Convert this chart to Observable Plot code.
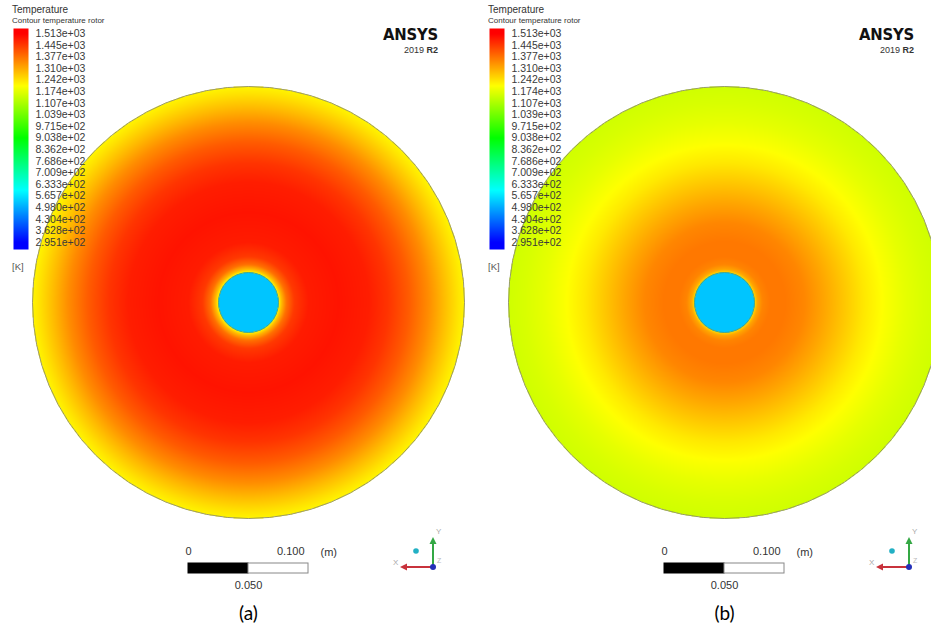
<!DOCTYPE html>
<html><head><meta charset="utf-8">
<script src="https://cdn.jsdelivr.net/npm/d3@7"></script>
<script src="https://cdn.jsdelivr.net/npm/@observablehq/plot@0.6"></script>
<style>
body{margin:0;background:#fff;font-family:"Liberation Sans",Arial,sans-serif;}
#root{position:relative;width:931px;height:628px;overflow:hidden;background:#fff;}
.abs{position:absolute;white-space:nowrap;line-height:1;}
.panel{position:absolute;top:0;height:628px;overflow:hidden;}
</style></head><body><div id="root"></div>
<script>
// ---------- data ----------
const legendTitle = "Temperature";
const legendSubtitle = "Contour temperature rotor";
const legendUnit = "[K]";
const legendValues = [1513, 1445, 1377, 1310, 1242, 1174, 1107, 1039, 971.5, 903.8, 836.2, 768.6, 700.9, 633.3, 565.7, 498.0, 430.4, 362.8, 295.1];
const tempMin = 295.1, tempMax = 1513;
const diskRadius = 0.18;   // m
const hubRadius = 0.025;   // m
const hubTemp = 530;       // K
// radial temperature profiles (radius in m, temperature in K)
const radiiA = [0.025, 0.0275, 0.0317, 0.0383, 0.05, 0.075, 0.1, 0.1167, 0.1333, 0.15, 0.1625, 0.1733, 0.18];
const tempsA = [1215, 1290, 1380, 1445, 1480, 1490, 1478, 1450, 1405, 1345, 1290, 1245, 1220];
const radiiB = [0.025, 0.0275, 0.0317, 0.0383, 0.05, 0.0667, 0.0833, 0.1, 0.1167, 0.1333, 0.15, 0.1667, 0.18];
const tempsB = [1250, 1315, 1355, 1370, 1370, 1352, 1315, 1275, 1235, 1205, 1180, 1162, 1152];
const scaleBarTicks = [0, 0.05, 0.1];  // m
const scaleBarUnit = "(m)";
const panelLabels = ["(a)", "(b)"];
const logoText = "ANSYS";
const logoVersion = "2019";
const logoRelease = "R2";

// ---------- layout ----------
const k = 1200;           // px per metre
const cx = 248, cy = 302, H = 628;
const panels = [
  {left: 0, width: 476, radii: radiiA, temps: tempsA, label: panelLabels[0]},
  {left: 476, width: 455, radii: radiiB, temps: tempsB, label: panelLabels[1]}
];
const colorOpts = {
  type: "linear", domain: [tempMin, tempMax], clamp: true,
  interpolate: t => d3.hsl(240 * (1 - t), 1, 0.5).formatRgb()
};
const fmt = d => d.toExponential(3).replace(/e([+-])(\d)$/, "e$10$2");
const root = document.getElementById("root");
const ym = p => (cy - p) / k;   // pixel row -> metres

function diskPlot(p) {
  const T = d3.scaleLinear().domain(p.radii).range(p.temps).clamp(true);
  const half = scaleBarTicks[scaleBarTicks.length - 1] / 2;
  const segs = [
    {x1: scaleBarTicks[0] - half, x2: scaleBarTicks[1] - half, fill: "#000"},
    {x1: scaleBarTicks[1] - half, x2: scaleBarTicks[2] - half, fill: "#fff"}
  ];
  return Plot.plot({
    width: p.width, height: H, margin: 0,
    x: {domain: [-cx / k, (p.width - cx) / k], axis: null},
    y: {domain: [-(H - cy) / k, cy / k], axis: null},
    r: {type: "linear", domain: [0, 1], range: [0, k]},
    color: colorOpts,
    style: {background: "transparent", fontFamily: "'Liberation Sans', Arial, sans-serif", fontSize: "11px", color: "#333"},
    marks: [
      Plot.raster({
        x1: -diskRadius, x2: diskRadius, y1: -diskRadius, y2: diskRadius, pixelSize: 1,
        fill: (x, y) => {
          const r = Math.hypot(x, y);
          if (r > diskRadius) return NaN;
          if (r < hubRadius) return hubTemp;
          return T(r);
        }
      }),
      Plot.dot([diskRadius], {x: 0, y: 0, r: d => d, stroke: "#7a7a60", strokeOpacity: 0.75, strokeWidth: 1, fill: "none"}),
      Plot.dot([hubRadius], {x: 0, y: 0, r: d => d, stroke: "#3f9a8a", strokeOpacity: 0.8, strokeWidth: 1, fill: "none"}),
      Plot.rect(segs, {x1: "x1", x2: "x2", y1: ym(563), y2: ym(573), fill: "fill", stroke: d => d.fill === "#000" ? "#000" : "#888", strokeWidth: 1}),
      Plot.text([scaleBarTicks[0]], {x: d => d - half, y: ym(551), text: d => String(d), fill: "#333", fontSize: 11}),
      Plot.text([scaleBarTicks[2]], {x: d => d - half, y: ym(551), text: d => d.toFixed(3), textAnchor: "end", dx: -4, fill: "#333", fontSize: 11}),
      Plot.text([scaleBarUnit], {x: scaleBarTicks[2] - half, y: ym(552), text: d => d, textAnchor: "start", dx: 12, fill: "#333", fontSize: 11}),
      Plot.text([scaleBarTicks[1]], {x: d => d - half, y: ym(585), text: d => d.toFixed(3), fill: "#333", fontSize: 11}),
      Plot.text([p.label], {x: 0, y: ym(613), text: d => d, fill: "#000", fontSize: 19, fontFamily: "Lato, 'Open Sans', sans-serif"})
    ]
  });
}

function legendPlot() {
  const top = 33, bot = 242, w = 130, h = 262;
  const tAt = px => tempMin + (bot - px) / (bot - top) * (tempMax - tempMin);
  return Plot.plot({
    width: w, height: h,
    marginLeft: 13, marginRight: w - 28, marginTop: top, marginBottom: h - bot,
    x: {domain: [0, 1], axis: null},
    y: {domain: [tempMin, tempMax], range: [bot, top], axis: null},
    color: colorOpts,
    style: {background: "transparent", fontFamily: "'Liberation Sans', Arial, sans-serif", fontSize: "10.5px", color: "#3a3a3a", overflow: "visible"},
    marks: [
      Plot.raster({x1: 0, x2: 1, y1: tAt(249), y2: tAt(28), pixelSize: 1, fill: (x, y) => y}),
      Plot.axisY(legendValues, {anchor: "right", tickSize: 0, tickPadding: 7, tickFormat: fmt, fontSize: 10.5})
    ]
  });
}

panels.forEach((p, i) => {
  const div = document.createElement("div");
  div.className = "panel";
  div.style.left = p.left + "px";
  div.style.width = p.width + "px";
  const svg = diskPlot(p);
  svg.style.position = "absolute"; svg.style.left = "0"; svg.style.top = "0";
  svg.style.maxWidth = "none";
  div.appendChild(svg);

  const leg = legendPlot();
  leg.style.position = "absolute"; leg.style.left = "0"; leg.style.top = "0"; leg.style.maxWidth = "none";
  div.appendChild(leg);

  const add = (html, css) => { const e = document.createElement("div"); e.className = "abs"; e.innerHTML = html; Object.assign(e.style, css); div.appendChild(e); };
  add(legendTitle, {left: "12px", top: "5px", fontSize: "10px", color: "#333"});
  add(legendSubtitle, {left: "12px", top: "17px", fontSize: "8px", color: "#333"});
  add(legendUnit, {left: "12px", top: "262px", fontSize: "9.5px", color: "#555"});
  add(logoText, {right: (p.width - 438) + "px", top: "27px", fontSize: "16.5px", fontWeight: "700", color: "#111",
    fontFamily: "'Liberation Sans Narrow','DejaVu Sans Condensed','Liberation Sans',sans-serif", letterSpacing: "-0.2px"});
  add(logoVersion + " <b>" + logoRelease + "</b>", {right: (p.width - 438) + "px", top: "46px", fontSize: "9px", color: "#333"});

  // orientation triad
  add(`<svg width="60" height="50" viewBox="385 525 60 50" style="display:block;overflow:visible">
    <line x1="433" y1="567" x2="405" y2="567" stroke="#c8323c" stroke-width="2"/>
    <line x1="433" y1="567" x2="433" y2="542" stroke="#34a844" stroke-width="2"/>
    <path d="M400,567l7,-3.5v7z" fill="#c8323c"/>
    <path d="M433,537l-3.5,7h7z" fill="#34a844"/>
    <circle cx="433" cy="567" r="3" fill="#2430b8"/>
    <circle cx="416" cy="551" r="2.8" fill="#22b0c4"/>
    <text x="393" y="565" font-size="8" fill="#aaa">X</text>
    <text x="436" y="534" font-size="8" fill="#aaa">Y</text>
    <text x="437" y="563" font-size="7" fill="#bbb">Z</text>
  </svg>`, {left: "385px", top: "525px"});

  root.appendChild(div);
});
</script>
</body></html>
